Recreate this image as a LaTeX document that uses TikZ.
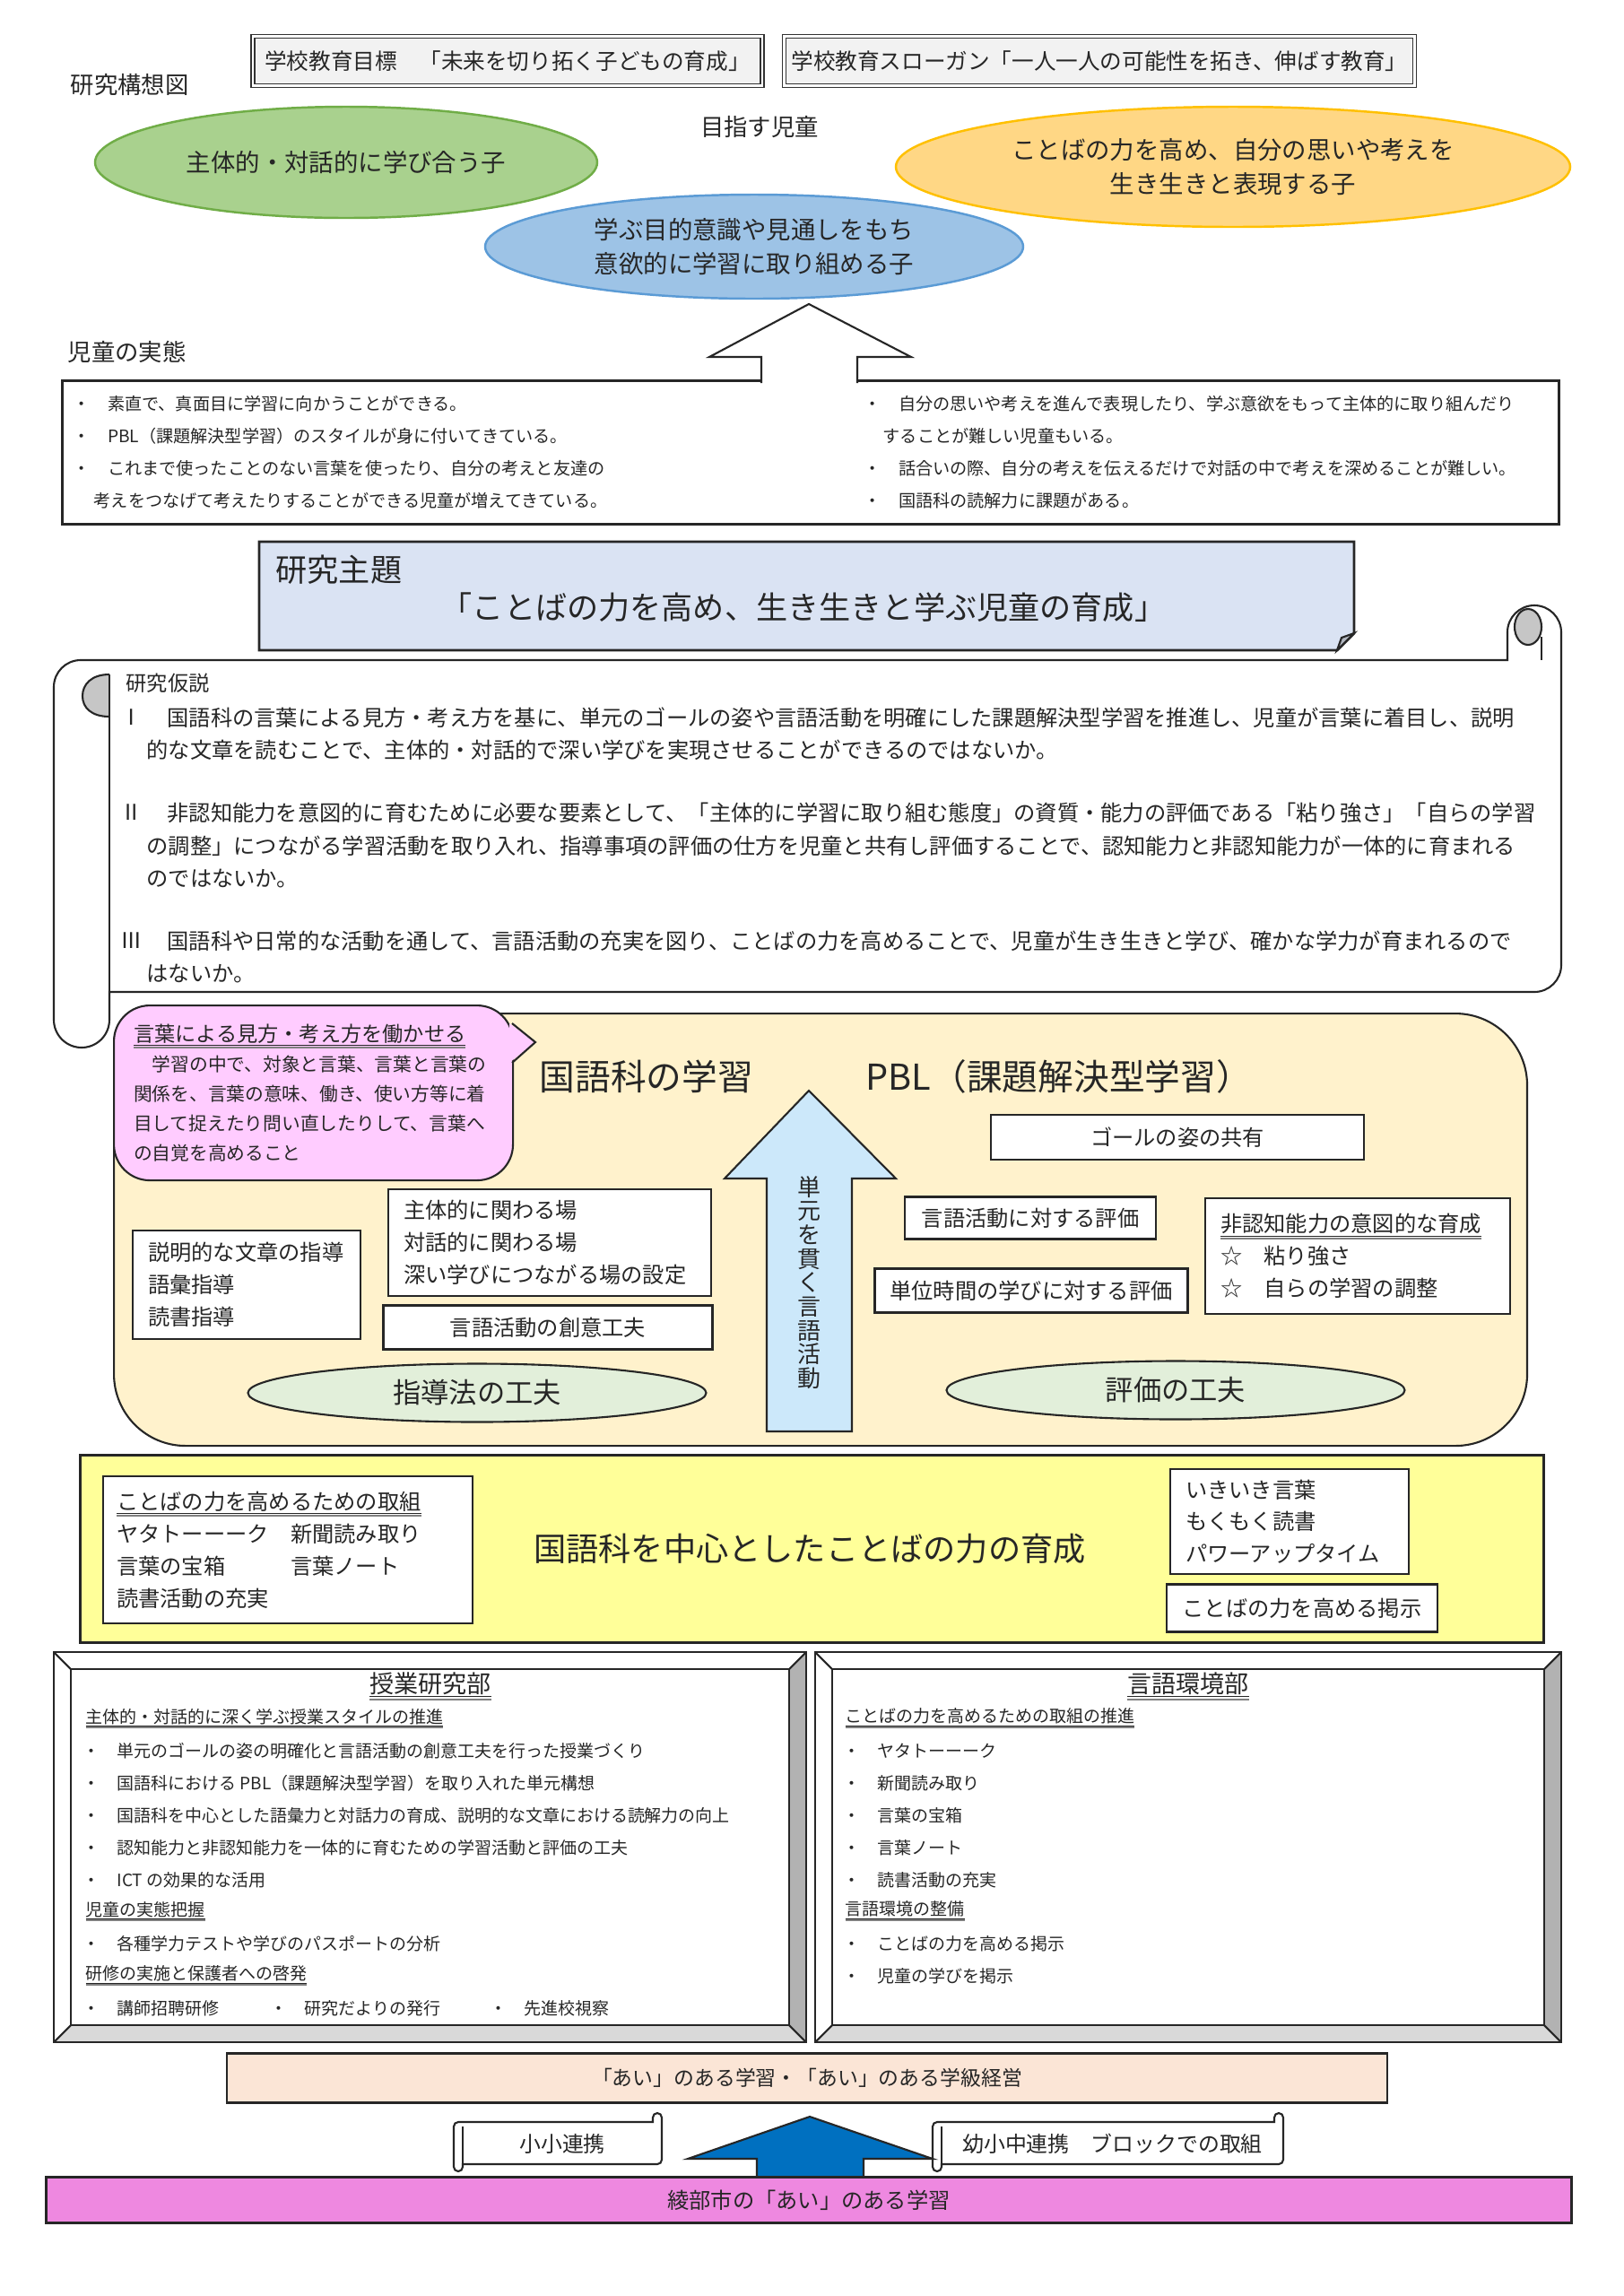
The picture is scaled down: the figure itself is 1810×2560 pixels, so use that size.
\documentclass[tikz,border=0pt]{standalone}
\usepackage{fontspec}
\setmainfont{Noto Sans CJK JP}
\usetikzlibrary{shapes.geometric, positioning}

\definecolor{goalgray}{HTML}{F2F2F2}
\definecolor{kidgreen}{HTML}{A9D18E}
\definecolor{kidgreenline}{HTML}{70AD47}
\definecolor{kidorange}{HTML}{FFD785}
\definecolor{kidorangeline}{HTML}{FFC000}
\definecolor{kidblue}{HTML}{9DC3E6}
\definecolor{kidblueline}{HTML}{5B9BD5}
\definecolor{themeblue}{HTML}{DAE3F3}
\definecolor{bubblepink}{HTML}{FFCCFF}
\definecolor{cream}{HTML}{FFF2CC}
\definecolor{skyarrow}{HTML}{CCE8FA}
\definecolor{ovalgreen}{HTML}{E2EFDA}
\definecolor{lemon}{HTML}{FFFF99}
\definecolor{beige}{HTML}{FBE5D6}
\definecolor{deepblue}{HTML}{0070C0}
\definecolor{orchid}{HTML}{EE88E0}

\newcommand\jfs[2]{\fontsize{#1}{#2}\selectfont}
\newcommand\dblul[1]{\setbox0=\hbox{#1}%
  \rlap{\rule[-0.2em]{\wd0}{0.35pt}}\rlap{\textcolor{gray}{\rule[-0.32em]{\wd0}{0.55pt}}}\box0}

\begin{document}
\begin{tikzpicture}[
  x=0.1mm, y=-0.1mm,
  every node/.style={text=black!85, inner sep=0pt},
  edge/.style={draw=black!85, line width=0.6pt},
  txt/.style={anchor=west, font=\jfs{#1}{#1}},
  txt/.default=6.9,
  goalbox/.style={rectangle, draw=black!80, double, double distance=0.6pt,
                  line width=0.45pt, fill=goalgray, font=\jfs{7}{8}},
  kid/.style={ellipse, line width=0.7pt, align=center, font=\jfs{7.8}{10.7}},
  plain/.style={rectangle, edge, fill=white},
  band/.style={anchor=north west, line width=0.8pt},
  listbox/.style={plain, anchor=north west, align=left, inner xsep=1.7mm,
                  font=\jfs{6.9}{10.2}},
  tagbox/.style={plain, font=\jfs{6.9}{8}},
  oval/.style={ellipse, edge, fill=ovalgreen, minimum width=51.1mm,
               minimum height=6.5mm, font=\jfs{8.9}{10}}
]
\fill[white] (0,0) rectangle (1810,2560);
\useasboundingbox (0,0) rectangle (1810,2560);

% goals and aimed children
\node[txt=7.5] (chartTitle) at (78,95) {研究構想図};
\node[goalbox, minimum width=56.8mm, minimum height=5.5mm] (schoolGoal) at (566,68)
  {学校教育目標　「未来を切り拓く子どもの育成」};
\node[goalbox, minimum width=70.3mm, minimum height=5.5mm] (slogan) at (1226,68)
  {学校教育スローガン「一人一人の可能性を拓き、伸ばす教育」};
\node[font=\jfs{7.5}{8}] (aimLabel) at (847,142) {目指す児童};
\node[kid, fill=kidgreen, draw=kidgreenline, minimum width=56mm, minimum height=12.4mm]
  (kidTalk) at (386,181) {主体的・対話的に学び合う子};
\node[kid, fill=kidorange, draw=kidorangeline, minimum width=75.2mm, minimum height=13.4mm]
  (kidWords) at (1375,186) {ことばの力を高め、自分の思いや考えを\\生き生きと表現する子};
\node[kid, fill=kidblue, draw=kidblueline, minimum width=60mm, minimum height=11.6mm]
  (kidAim) at (841,275) {学ぶ目的意識や見通しをもち\\意欲的に学習に取り組める子};

% present state of the children
\node[txt=7.5] (stateLabel) at (75,392) {児童の実態};
\node[plain, band, minimum width=166.9mm, minimum height=16mm] (state) at (68,423) {};
\draw[edge, fill=white] (849,427) -- (849,398) -- (791,398) -- (902,339)
  -- (1016,398) -- (956,398) -- (956,427);
\node[txt=5.45] (stateL1) at (81,450) {・　素直で、真面目に学習に向かうことができる。};
\node[txt=5.45] (stateL2) at (81,486) {・　PBL（課題解決型学習）のスタイルが身に付いてきている。};
\node[txt=5.45] (stateL3) at (81,522) {・　これまで使ったことのない言葉を使ったり、自分の考えと友達の};
\node[txt=5.45] (stateL4) at (104,558) {考えをつなげて考えたりすることができる児童が増えてきている。};
\node[txt=5.45] (stateR1) at (963,450) {・　自分の思いや考えを進んで表現したり、学ぶ意欲をもって主体的に取り組んだり};
\node[txt=5.45] (stateR2) at (984,486) {することが難しい児童もいる。};
\node[txt=5.45] (stateR3) at (963,522) {・　話合いの際、自分の考えを伝えるだけで対話の中で考えを深めることが難しい。};
\node[txt=5.45] (stateR4) at (963,558) {・　国語科の読解力に課題がある。};

% research theme
\draw[edge, line width=0.8pt, fill=themeblue] (289,604) -- (1510,604) -- (1510,706)
  -- (1491,725) -- (289,725) -- cycle;
\draw[edge, fill=themeblue!55!gray] (1510,706) -- (1496,711) -- (1491,725) -- cycle;
\node[txt=10] (themeLabel) at (307,635) {研究主題};
\node[font=\jfs{10}{11}] (themeTitle) at (896,677) {「ことばの力を高め、生き生きと学ぶ児童の育成」};

% hypothesis scroll
\draw[edge, fill=white] (1741,705) arc[start angle=0, end angle=-180, radius=30]
  -- (1681,736) -- (90,736) arc[start angle=-90, end angle=-180, radius=30]
  -- (60,1137) arc[start angle=180, end angle=0, radius=31]
  -- (122,1106) -- (1711,1106) arc[start angle=90, end angle=0, radius=30] -- cycle;
\draw[edge, fill=gray!45] (122,752) .. controls (102,752) and (92,763) .. (92,776)
  .. controls (92,789) and (102,799) .. (122,799);
\draw[edge] (122,752) -- (122,1137);
\draw[edge, fill=gray!45] (1704,699) ellipse[x radius=15, y radius=20];
\draw[edge] (1719,710) -- (1719,736);

\node[txt=6.6] (hypLabel) at (140,762) {研究仮説};
\node[txt] (hypNumA) at (134,800) {Ⅰ};
\node[txt] (hypA1) at (186,800) {国語科の言葉による見方・考え方を基に、単元のゴールの姿や言語活動を明確にした課題解決型学習を推進し、児童が言葉に着目し、説明};
\node[txt] (hypA2) at (163,836) {的な文章を読むことで、主体的・対話的で深い学びを実現させることができるのではないか。};
\node[txt] (hypNumB) at (134,906) {Ⅱ};
\node[txt] (hypB1) at (186,906) {非認知能力を意図的に育むために必要な要素として、「主体的に学習に取り組む態度」の資質・能力の評価である「粘り強さ」「自らの学習};
\node[txt] (hypB2) at (163,943) {の調整」につながる学習活動を取り入れ、指導事項の評価の仕方を児童と共有し評価することで、認知能力と非認知能力が一体的に育まれる};
\node[txt] (hypB3) at (163,979) {のではないか。};
\node[txt] (hypNumC) at (134,1049) {Ⅲ};
\node[txt] (hypC1) at (186,1049) {国語科や日常的な活動を通して、言語活動の充実を図り、ことばの力を高めることで、児童が生き生きと学び、確かな学力が育まれるので};
\node[txt] (hypC2) at (163,1085) {はないか。};

% Japanese lessons and PBL
\node[rectangle, edge, fill=cream, rounded corners=8mm, anchor=north west,
      minimum width=157.6mm, minimum height=48.2mm] (learnFrame) at (126,1129) {};
\node[rectangle, edge, fill=bubblepink, rounded corners=4mm, anchor=north west,
      minimum width=44.5mm, minimum height=19.5mm, text width=40.1mm, inner xsep=2.2mm,
      align=left, font=\jfs{5.9}{9.4}] (viewBubble) at (126,1120)
  {{\jfs{6.6}{10.5}\dblul{言葉による見方・考え方を働かせる}}\\
   　学習の中で、対象と言葉、言葉と言葉の\\
   関係を、言葉の意味、働き、使い方等に着\\
   目して捉えたり問い直したりして、言葉へ\\
   の自覚を高めること};
\fill[bubblepink] (568,1141) -- (597,1162) -- (568,1185) -- cycle;
\draw[edge] (571,1141) -- (597,1162) -- (571,1185);

\node[txt=11.3] (jpLearn) at (601,1200) {国語科の学習};
\node[txt=11.3] (pblLearn) at (965,1200) {PBL（課題解決型学習）};

\draw[edge, fill=skyarrow] (855,1596) -- (855,1314) -- (808,1314) -- (902,1216)
  -- (999,1314) -- (950,1314) -- (950,1596) -- cycle;
\node[align=center, font=\jfs{7.4}{7.6}] (unitText) at (902,1430)
  {単\\元\\を\\貫\\く\\言\\語\\活\\動};

\node[listbox, text width=22mm, minimum height=12.1mm] (readBox) at (147,1371)
  {説明的な文章の指導\\語彙指導\\読書指導};
\node[listbox, text width=32.6mm, minimum height=11.9mm] (placeBox) at (432,1325)
  {主体的に関わる場\\対話的に関わる場\\深い学びにつながる場の設定};
\node[tagbox, minimum width=36.7mm, minimum height=4.9mm] (actBox) at (611,1480) {言語活動の創意工夫};
\node[oval] (teachOval) at (532,1553) {指導法の工夫};

\node[tagbox, minimum width=41.6mm, minimum height=5mm] (goalShare) at (1313,1268) {ゴールの姿の共有};
\node[tagbox, minimum width=28mm, minimum height=4.7mm] (evalAct) at (1149,1358) {言語活動に対する評価};
\node[tagbox, minimum width=34.9mm, minimum height=4.9mm] (evalUnit) at (1150,1439) {単位時間の学びに対する評価};
\node[listbox, text width=30.6mm, minimum height=12.9mm] (nonCog) at (1343,1335)
  {\dblul{非認知能力の意図的な育成}\\☆　粘り強さ\\☆　自らの学習の調整};
\node[oval] (evalOval) at (1311,1550) {評価の工夫};

% power of words
\node[plain, band, fill=lemon, minimum width=163.2mm, minimum height=20.9mm] (wordBand) at (88,1621) {};
\node[listbox, inner xsep=1.5mm, text width=38.2mm, minimum height=16.4mm] (effortBox) at (114,1645)
  {\dblul{ことばの力を高めるための取組}\\ヤタトーーーク　新聞読み取り\\言葉の宝箱　　　言葉ノート\\読書活動の充実};
\node[font=\jfs{10.3}{11}] (wordCenter) at (903,1727) {国語科を中心としたことばの力の育成};
\node[listbox, text width=23.2mm, minimum height=11.7mm] (dailyBox) at (1304,1637)
  {いきいき言葉\\もくもく読書\\パワーアップタイム};
\node[tagbox, minimum width=30.2mm, minimum height=5.3mm] (displayBox) at (1452,1793) {ことばの力を高める掲示};

% two departments
\foreach \xa/\xb in {60/899, 909/1741} {
  \fill[gray!60] (\xb,1842) -- (\xb,2277) -- (\xb-19,2258) -- (\xb-19,1861) -- cycle;
  \fill[gray!30] (\xa,2277) -- (\xb,2277) -- (\xb-19,2258) -- (\xa+19,2258) -- cycle;
  \draw[edge] (\xa,1842) rectangle (\xb,2277);
  \draw[edge] (\xa+19,1861) rectangle (\xb-19,2258);
  \draw[edge] (\xa,1842) -- (\xa+19,1861) (\xb,1842) -- (\xb-19,1861)
              (\xa,2277) -- (\xa+19,2258) (\xb,2277) -- (\xb-19,2258);
}
\node[font=\jfs{7.7}{8}] (lessonHead) at (480,1880) {\dblul{授業研究部}};
\node[txt=5.4] (lessonSubA) at (95,1916) {\dblul{主体的・対話的に深く学ぶ授業スタイルの推進}};
\foreach \entry [count=\i from 0] in {単元のゴールの姿の明確化と言語活動の創意工夫を行った授業づくり,
    国語科における PBL（課題解決型学習）を取り入れた単元構想,
    国語科を中心とした語彙力と対話力の育成、説明的な文章における読解力の向上,
    認知能力と非認知能力を一体的に育むための学習活動と評価の工夫,
    ICT の効果的な活用}
  \node[txt=5.4] (lessonItem\i) at (92,1952+36*\i) {・　\entry};
\node[txt=5.4] (lessonSubB) at (95,2131) {\dblul{児童の実態把握}};
\node[txt=5.4] (lessonItem5) at (92,2167) {・　各種学力テストや学びのパスポートの分析};
\node[txt=5.4] (lessonSubC) at (95,2203) {\dblul{研修の実施と保護者への啓発}};
\node[txt=5.4] (trainA) at (92,2239) {・　講師招聘研修};
\node[txt=5.4] (trainB) at (301,2239) {・　研究だよりの発行};
\node[txt=5.4] (trainC) at (546,2239) {・　先進校視察};

\node[font=\jfs{7.7}{8}] (envHead) at (1325,1880) {\dblul{言語環境部}};
\node[txt=5.4] (envSubA) at (942,1916) {\dblul{ことばの力を高めるための取組の推進}};
\foreach \entry [count=\i from 0] in {ヤタトーーーク, 新聞読み取り, 言葉の宝箱, 言葉ノート, 読書活動の充実}
  \node[txt=5.4] (envItem\i) at (940,1952+36*\i) {・　\entry};
\node[txt=5.4] (envSubB) at (942,2131) {\dblul{言語環境の整備}};
\node[txt=5.4] (envItem5) at (940,2167) {・　ことばの力を高める掲示};
\node[txt=5.4] (envItem6) at (940,2203) {・　児童の学びを掲示};

% foundation
\node[plain, band, fill=beige, anchor=center, minimum width=129.4mm, minimum height=5.5mm,
      font=\jfs{6.5}{8}] (aiClass) at (900,2317) {「あい」のある学習・「あい」のある学級経営};
\foreach \xa/\xb/\lbl/\nm in {506/738/小小連携/linkSchool, 1040/1431/幼小中連携　ブロックでの取組/linkBlock} {
  \draw[edge, fill=white] (\xb,2361) arc[start angle=0, end angle=-180, radius=5]
    -- (\xb-10,2366) -- (\xa+5,2366) arc[start angle=-90, end angle=-180, radius=5]
    -- (\xa,2416) arc[start angle=180, end angle=0, radius=5]
    -- (\xa+10,2413) -- (\xb-5,2413) arc[start angle=90, end angle=0, radius=5] -- cycle;
  \draw[edge] (\xa+10,2371) -- (\xa+10,2413);
  \node[font=\jfs{6.8}{8}] (\nm) at ({(\xa+\xb)/2+5},2390) {\lbl};
}
\draw[edge, fill=deepblue] (844,2430) -- (844,2407) -- (767,2407) -- (903,2360)
  -- (1040,2407) -- (963,2407) -- (963,2430) -- cycle;
\node[plain, band, fill=orchid, anchor=center, minimum width=170.1mm, minimum height=5.1mm,
      font=\jfs{6.9}{8}] (ayabe) at (902,2453) {綾部市の「あい」のある学習};

\end{tikzpicture}
\end{document}
